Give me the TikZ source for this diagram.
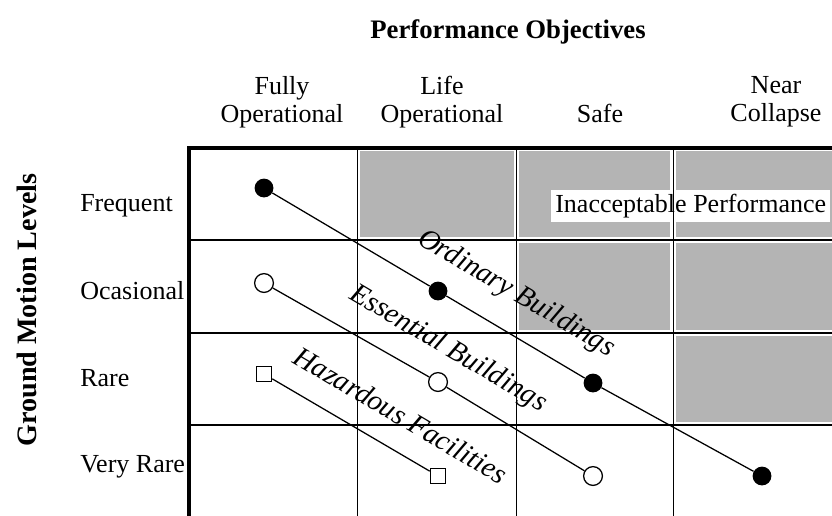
\documentclass[tikz,border=0pt]{standalone}
\usepackage{fontspec}
\setmainfont{Liberation Serif}
\definecolor{shade}{RGB}{180,180,180}

\begin{document}
\begin{tikzpicture}[x=0.025cm,y=-0.025cm]
\tikzset{lbl/.style = {font=\fontsize{18.5}{20}\selectfont, inner sep=0pt}}
\tikzset{head/.style = {font=\fontsize{19}{22}\selectfont\bfseries, inner sep=0pt}}
\tikzset{tag/.style = {font=\fontsize{20.5}{22}\selectfont\itshape, inner sep=0pt, rotate=-30.5}}
\tikzset{fullmark/.style = {shape=circle, fill=black, minimum size=0.47cm, inner sep=0pt}}
\tikzset{openmark/.style = {shape=circle, draw, fill=white, line width=0.9pt, minimum size=0.47cm, inner sep=0pt}}
\tikzset{boxmark/.style = {shape=rectangle, draw, fill=white, line width=0.9pt, minimum size=0.38cm, inner sep=0pt}}
\tikzset{cell/.style = {fill=shade}}
\tikzset{colline/.style = {line width=0.7pt}}
\tikzset{rowline/.style = {line width=1.4pt}}
\tikzset{frame/.style = {line width=2.9pt}}
\useasboundingbox (0,0) rectangle (832,515);
\fill[white] (0,0) rectangle (832,515);
% headings
\node[head] (title) at (508,32) {Performance Objectives};
\node[head, rotate=90, font=\fontsize{20}{22}\selectfont\bfseries] (gml) at (27,310) {Ground Motion Levels};
\node[lbl, align=center, anchor=north] (fo) at (282,76) {Fully\\Operational};
\node[lbl, align=center, anchor=north] (lo) at (442,76) {Life\\Operational};
\node[lbl, anchor=base] (sf) at (600,122) {Safe};
\node[lbl, align=center, anchor=north] (nc) at (776,76) {Near\\Collapse};
\node[lbl, anchor=base west] (fr) at (80,211) {Frequent};
\node[lbl, anchor=base west] (oc) at (80,299) {Ocasional};
\node[lbl, anchor=base west] (ra) at (80,386) {Rare};
\node[lbl, anchor=base west] (vr) at (80,472) {Very Rare};

\begin{scope}
\clip (0,0) rectangle (832,515);
% shaded cells
\fill[cell] (360,151) rectangle (514,237);
\fill[cell] (519,151) rectangle (670,237);
\fill[cell] (676,151) rectangle (840,237);
\fill[cell] (519,243) rectangle (670,330);
\fill[cell] (676,243) rectangle (840,330);
\fill[cell] (676,336) rectangle (840,422);
\node[lbl, fill=white, anchor=west, inner xsep=0.1cm, minimum height=0.8cm] (bad) at (551,206) {Inacceptable Performance};
% grid
\draw[colline] (357,148) -- (357,520);
\draw[colline] (516,148) -- (516,520);
\draw[colline] (673,148) -- (673,520);
\draw[rowline] (189,240) -- (840,240);
\draw[rowline] (189,333) -- (840,333);
\draw[rowline] (189,425) -- (840,425);
\draw[frame] (189,520) -- (189,148) -- (840,148);

% markers
\node[fullmark] (ob1) at (264,188) {};
\node[fullmark] (ob2) at (438,291) {};
\node[fullmark] (ob3) at (593,383) {};
\node[fullmark] (ob4) at (762,476) {};
\node[openmark] (eb1) at (264,283) {};
\node[openmark] (eb2) at (438,382) {};
\node[openmark] (eb3) at (593,476) {};
\node[boxmark] (hf1) at (264,374) {};
\node[boxmark] (hf2) at (438,476) {};

%lines
\tikzset{edge/.style = {line width=0.9pt}}
\draw[edge] (ob1) -- (ob2) -- (ob3) -- (ob4);
\draw[edge] (eb1) -- (eb2) -- (eb3);
\draw[edge] (hf1) -- (hf2);
\node[tag] (ot) at (516,294) {Ordinary Buildings};
\node[tag] (et) at (448,349) {Essential Buildings};
\node[tag] (ht) at (401,415) {Hazardous Facilities};
\end{scope}
\end{tikzpicture}
\end{document}
